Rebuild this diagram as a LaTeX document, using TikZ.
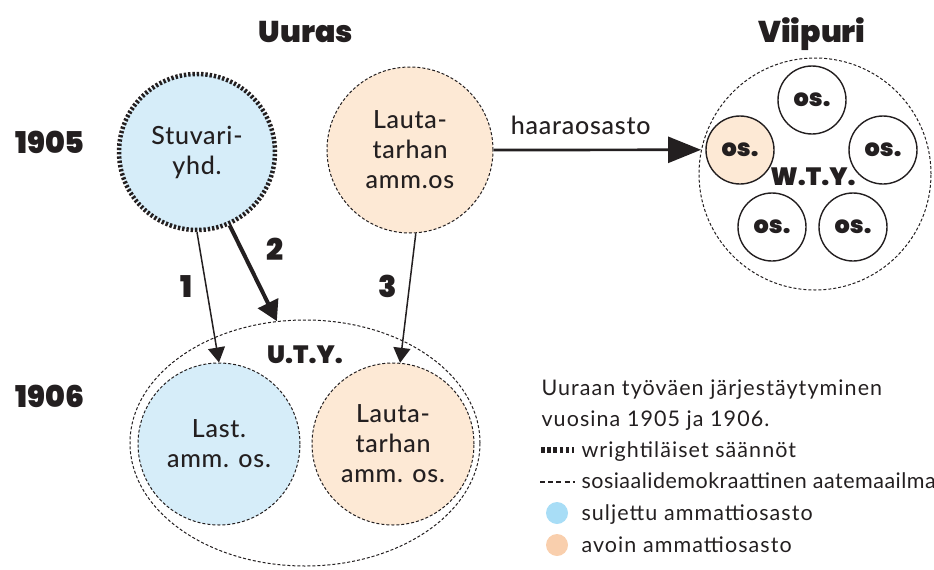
\documentclass[tikz,border=0pt]{standalone}
\usepackage{fontspec}
\setmainfont{Lato}
\newfontfamily\headfont{Poppins Black}
\newfontfamily\nodefont{Lato Medium}[LetterSpace=3]
\newfontfamily\keyfont{Lato}[LetterSpace=5]
\newfontfamily\longkeyfont{Lato}[LetterSpace=2.3]
\usepackage{tikz}
\usetikzlibrary{arrows.meta}
\usetikzlibrary{shapes.geometric}
\usepackage{xcolor}

\definecolor{ink}{HTML}{231F20}
\definecolor{closedblue}{HTML}{D6EDF9}
\definecolor{openpeach}{HTML}{FDE9D5}
\definecolor{dotblue}{HTML}{A8DDF6}
\definecolor{dotpeach}{HTML}{F9CFAD}

\begin{document}
\begin{tikzpicture}[x=1pt,y=-1pt,>=Stealth,
		every node/.style={text=ink},
		txt/.style={font=\nodefont\fontsize{25}{30}\selectfont,align=center},
		hd/.style={font=\headfont\fontsize{30}{32}\selectfont},
		abbr/.style={font=\headfont\fontsize{25}{26}\selectfont},
		keytext/.style={anchor=base west,font=\keyfont\fontsize{21.5}{24}\selectfont},
		dashline/.style={draw=ink,line width=1pt,dash pattern=on 3pt off 2pt},
		wright/.style={draw=ink,line width=4.5pt,dash pattern=on 2.4pt off 1.9pt},
		society/.style={circle,inner sep=0pt,txt},
		osbox/.style={circle,draw=ink,line width=1.4pt,minimum size=68pt,inner sep=0pt,
			font=\headfont\fontsize{24}{26}\selectfont},
		thinarrow/.style={draw=ink,line width=1.5pt,-{Triangle[length=15pt,width=17pt]}},
		thickarrow/.style={draw=ink,line width=4pt,-{Triangle[length=20pt,width=22pt]}},
		bigarrow/.style={draw=ink,line width=2.7pt,-{Triangle[length=33pt,width=26pt]}}]
		
		\useasboundingbox (0,0) rectangle (934,570);
		
		% Headings
		\node[hd,anchor=base] (uuras) at (306,42) {Uuras};
		\node[hd,anchor=base] (viipurihead) at (812,42) {Viipuri};
		\node[hd,anchor=base] (y1905) at (50,153) {1905};
		\node[hd,anchor=base] (y1906) at (50,407) {1906};
		
		% 1905 in Uuras
		\node[society,minimum size=156pt,fill=closedblue,wright] (stuvari) at (197,152) {Stuvari-\\yhd.};
		\node[society,minimum size=166pt,fill=openpeach,dashline] (lauta) at (410,150) {Lauta-\\tarhan\\amm.os};
		
		% Viipuri union
		\node[circle,minimum size=232pt,inner sep=0pt,dashline] (viipuri) at (815,174) {};
		\node[abbr] (wty) at (813,177) {W.T.Y.};
		\node[osbox,fill=openpeach] (osa) at (740,150) {os.};
		\node[osbox] (osb) at (812,100) {os.};
		\node[osbox] (osc) at (883,150) {os.};
		\node[osbox] (osd) at (853,227) {os.};
		\node[osbox] (ose) at (772,227) {os.};
		
		% 1906 in Uuras
		\node[ellipse,minimum width=350pt,minimum height=246pt,inner sep=0pt,dashline] (uty) at (305,443) {};
		\node[abbr] (utylabel) at (305,355) {U.T.Y.};
		\node[society,minimum size=162pt,fill=closedblue,dashline] (last) at (219,444) {Last.\\amm. os.};
		\node[society,minimum size=162pt,fill=openpeach,dashline] (lauta2) at (393,444) {Lauta-\\tarhan\\amm. os.};
		
		% Connections
		\draw[thinarrow] (stuvari.south) -- (last.north);
		\draw[thickarrow] (stuvari.-66) -- (uty.103);
		\draw[thinarrow] (lauta.-86) -- (lauta2.85);
		\draw[bigarrow] (lauta.east) -- node[pos=0.42,above=11pt,font=\nodefont\fontsize{25}{30}\selectfont] (branch) {haaraosasto} (viipuri.168);
		
		\node[hd] (step1) at (186,287) {1};
		\node[hd] (step2) at (275,249) {2};
		\node[hd] (step3) at (388,286) {3};
		
		% Legend
		\node[keytext] (cap1) at (538,395) {Uuraan työväen järjestäytyminen};
		\node[keytext] (cap2) at (538,426) {vuosina 1905 ja 1906.};
		\draw[wright,line width=6pt,dash pattern=on 3.6pt off 2.6pt] (541,450) -- (574,450);
		\node[keytext] (key1) at (578,457) {wrightiläiset säännöt};
		\draw[draw=ink,line width=1.4pt,dash pattern=on 5pt off 3.2pt] (540,482) -- (575,482);
		\node[keytext,font=\longkeyfont\fontsize{21.5}{24}\selectfont] (key2) at (578,488) {sosiaalidemokraattinen aatemaailma};
		\fill[dotblue] (557,513) circle (11);
		\node[keytext] (key3) at (578,520) {suljettu ammattiosasto};
		\fill[dotpeach] (557,545) circle (11);
		\node[keytext] (key4) at (578,552) {avoin ammattiosasto};
		
	\end{tikzpicture}
\end{document}
